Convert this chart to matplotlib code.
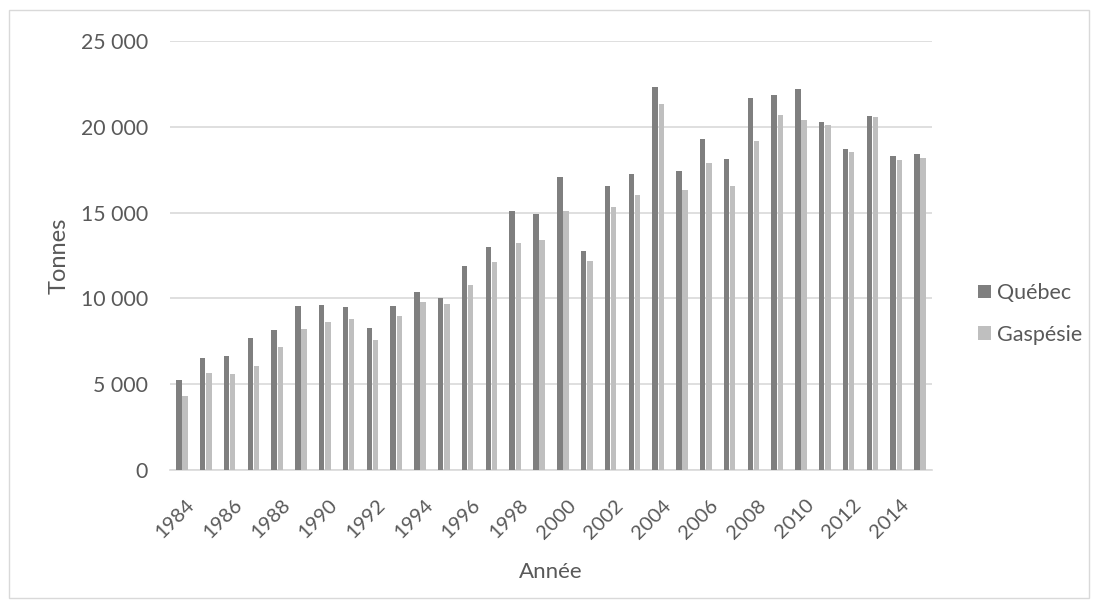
import matplotlib
matplotlib.use("Agg")
import matplotlib.pyplot as plt
from matplotlib.patches import Rectangle
from matplotlib.ticker import FuncFormatter
from matplotlib.transforms import ScaledTranslation
import numpy as np

years = list(range(1984, 2016))
quebec = [5250, 6500, 6650, 7700, 8150, 9550, 9600, 9500, 8250, 9550,
          10350, 10050, 11900, 13000, 15100, 14900, 17050, 12750, 16550, 17250,
          22300, 17400, 19300, 18150, 21650, 21850, 22200, 20300, 18700, 20650,
          18300, 18400]
gaspesie = [4300, 5650, 5600, 6050, 7150, 8200, 8600, 8800, 7600, 9000,
            9800, 9650, 10800, 12100, 13200, 13400, 15100, 12200, 15300, 16050,
            21350, 16300, 17900, 16550, 19150, 20700, 20400, 20100, 18550, 20550,
            18050, 18200]
series_names = ["Québec", "Gaspésie"]
colors = ["#7f7f7f", "#bfbfbf"]

plt.rcParams['font.family'] = ['Lato', 'DejaVu Sans']
txt = "#595959"
W, H = 1100, 610

fig = plt.figure(figsize=(11, 6.1), dpi=100)
ax = fig.add_axes([170 / W, 1 - 470 / H, 762 / W, 429 / H])

x = np.arange(len(years))
w = 0.23
ax.bar(x - 0.13, quebec, width=w, color=colors[0], label=series_names[0], zorder=3)
ax.bar(x + 0.13, gaspesie, width=w, color=colors[1], label=series_names[1], zorder=3)

ax.set_xlim(-0.5, len(years) - 0.5)
ax.set_ylim(0, 25000)
ax.set_yticks(range(0, 25001, 5000))
ax.yaxis.set_major_formatter(FuncFormatter(lambda v, p: f"{int(v):,}".replace(",", " ")))
ax.grid(axis='y', color="#d9d9d9", linewidth=1.2, zorder=0)
for s in ['top', 'right', 'left']:
    ax.spines[s].set_visible(False)
ax.spines['bottom'].set_color("#d9d9d9")
ax.spines['bottom'].set_linewidth(1.2)

ax.set_xticks(x[::2])
ax.set_xticklabels([str(y) for y in years[::2]], rotation=45, ha='right',
                   va='top', rotation_mode='anchor')
ax.tick_params(axis='y', length=0, labelsize=15.3, colors=txt, pad=16)
ax.tick_params(axis='x', length=0, labelsize=14.5, colors=txt, pad=19)
offset = ScaledTranslation(4 / 100, 0, fig.dpi_scale_trans)
for lab in ax.get_xticklabels():
    lab.set_transform(lab.get_transform() + offset)

fig.text(59 / W, 1 - 256 / H, "Tonnes", rotation=90, ha='center', va='center',
         fontsize=17, color=txt)
fig.text(551 / W, 1 - 572 / H, "Année", ha='center', va='center',
         fontsize=16, color=txt)

leg = fig.legend(handles=[ax.containers[0], ax.containers[1]],
                 labels=series_names,
                 loc='center left', bbox_to_anchor=(978 / W, 1 - 314 / H),
                 frameon=False, fontsize=15.5, handlelength=0.6, handleheight=0.6,
                 labelspacing=1.0, handletextpad=0.3, borderpad=0, borderaxespad=0)
for t in leg.get_texts():
    t.set_color(txt)

fig.patches.append(Rectangle((9 / W, 1 - 598 / H), 1080 / W, 588 / H,
                             transform=fig.transFigure, fill=False,
                             edgecolor="#d9d9d9", linewidth=1))
fig.savefig("out.png", dpi=100)
